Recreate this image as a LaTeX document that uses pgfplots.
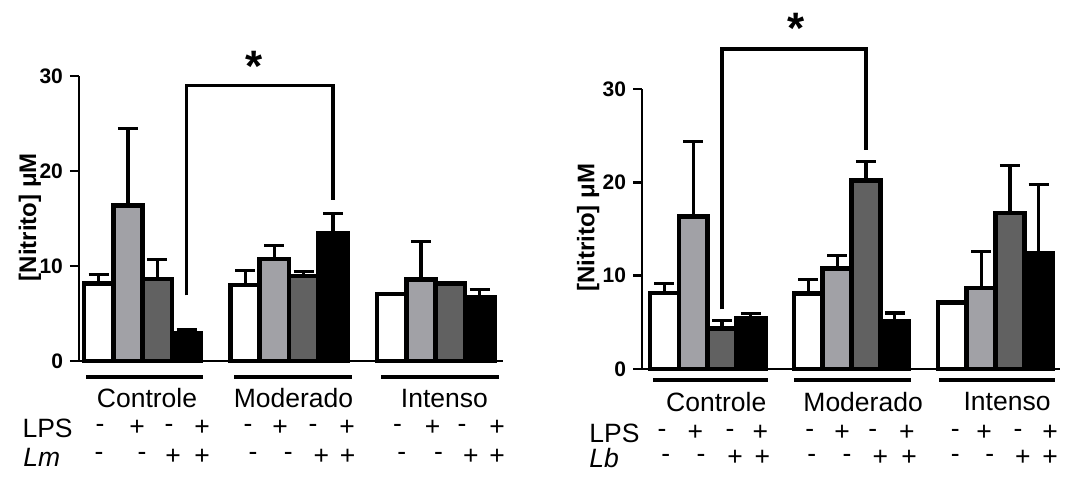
\documentclass[border=0pt]{standalone}
\usepackage{pgfplots}
\pgfplotsset{compat=1.18}
\usepackage{fontspec}
\setmainfont{Liberation Sans}
\definecolor{lgray}{RGB}{161,161,166}
\definecolor{dgray}{RGB}{97,97,97}
\newcommand{\grp}{\fontsize{13.25}{15}\selectfont}
\newcommand{\signrow}[2]{%
  \foreach \x/\s in {#2} {\edef\tmp{\noexpand\node[font=\noexpand\grp, inner sep=0pt] at (axis cs:\x,#1) {\s};}\tmp}}
\pgfplotsset{
  panel/.style={
    scale only axis,
    axis x line*=bottom, axis y line*=left,
    axis line style={line width=1.35pt,-},
    xtick=\empty,
    ymin=0, ymax=30, ytick={0,10,20,30},
    ytick style={line width=1.35pt, black},
    major tick length=4.5pt, tick align=outside,
    yticklabel style={font=\fontsize{10.5}{12}\selectfont\bfseries},
    /pgf/number format/assume math mode=true,
    ylabel={[Nitrito] μM},
    clip=false,
    ybar, bar width=1, bar shift=0pt,
  },
  bw/.style={draw=black, line width=2.3pt, fill=#1,
    error bars/.cd, y dir=plus, y explicit,
    error bar style={line width=1.6pt, black, solid},
    error mark options={rotate=90, line width=1.6pt, mark size=5pt, black, solid}},
}
\pgfplotstableread{
x y e
0 8.15 0.95
5 8.0 1.55
10 7.05 0
}\LwA
\pgfplotstableread{
x y e
1 16.35 8.15
6 10.75 1.4
11 8.55 4.0
}\LwB
\pgfplotstableread{
x y e
2 8.65 2.05
7 8.95 0.5
12 8.15 0
}\LwC
\pgfplotstableread{
x y e
3 2.9 0.4
8 13.45 2.1
13 6.75 0.8
}\LwD
\pgfplotstableread{
x y e
0 8.14 1.06
5 8.07 1.5
10 7.1 0
}\RwA
\pgfplotstableread{
x y e
1 16.36 8.04
6 10.75 1.43
11 8.68 3.92
}\RwB
\pgfplotstableread{
x y e
2 4.32 0.88
7 20.2 2.0
12 16.7 5.1
}\RwC
\pgfplotstableread{
x y e
3 5.46 0.47
8 5.1 0.9
13 12.36 7.44
}\RwD
\begin{document}
\begin{tikzpicture}
\useasboundingbox (0,0) rectangle (536pt,238.5pt);
% ---------------- left panel
\begin{axis}[panel,
  at={(39.5pt,58pt)}, anchor=south west,
  width=212pt, height=142.5pt,
  xmin=-0.67, xmax=13.8,
  ylabel style={at={(axis description cs:-0.116,0.505)}, anchor=center, font=\fontsize{12}{14}\selectfont\bfseries},
]
\addplot[bw=white] table[x=x,y=y,y error=e]{\LwA};
\addplot[bw=lgray] table[x=x,y=y,y error=e]{\LwB};
\addplot[bw=dgray] table[x=x,y=y,y error=e]{\LwC};
\addplot[bw=black] table[x=x,y=y,y error=e]{\LwD};
\draw[line width=1.7pt] (axis cs:3,6.9) -- (axis cs:3,29) -- (axis cs:8,29) -- (axis cs:8,16.9);
\node[font=\fontsize{22}{24}\selectfont\bfseries, anchor=base] at (axis cs:5.3,29.4) {*};
\draw[line width=2pt] (axis cs:-0.43,-1.68) -- (axis cs:3.56,-1.68);
\draw[line width=2pt] (axis cs:4.62,-1.68) -- (axis cs:8.65,-1.68);
\draw[line width=2pt] (axis cs:9.64,-1.68) -- (axis cs:13.67,-1.68);
\node[font=\grp] at (axis cs:1.65,-3.9) {Controle};
\node[font=\grp] at (axis cs:6.65,-3.9) {Moderado};
\node[font=\grp] at (axis cs:11.8,-3.9) {Intenso};
\node[font=\grp, anchor=west, inner sep=0pt] at (axis cs:-2.61,-7.05) {LPS};
\node[font=\grp\itshape, anchor=west, inner sep=0pt] at (axis cs:-2.58,-10.1) {Lm};
\signrow{-7.05}{0.05/-,1.31/+,2.4/-,3.53/+,5.1/-,6.19/+,7.32/-,8.48/+,10.2/-,11.4/+,12.4/-,13.6/+}
\signrow{-10.1}{0.01/-,1.48/-,2.54/+,3.53/+,5.27/-,6.47/-,7.6/+,8.5/+,10.35/-,11.6/-,12.7/+,13.6/+}
\end{axis}
% ---------------- right panel
\begin{axis}[panel,
  at={(321pt,54pt)}, anchor=south west,
  width=209pt, height=140pt,
  xmin=-0.78, xmax=13.74,
  ylabel style={at={(axis description cs:-0.129,0.504)}, anchor=center, font=\fontsize{12}{14}\selectfont\bfseries},
]
\addplot[bw=white] table[x=x,y=y,y error=e]{\RwA};
\addplot[bw=lgray] table[x=x,y=y,y error=e]{\RwB};
\addplot[bw=dgray] table[x=x,y=y,y error=e]{\RwC};
\addplot[bw=black] table[x=x,y=y,y error=e]{\RwD};
\draw[line width=1.7pt] (axis cs:2,6.4) -- (axis cs:2,34.3) -- (axis cs:7,34.3) -- (axis cs:7,23.5);
\node[font=\fontsize{22}{24}\selectfont\bfseries, anchor=base] at (axis cs:4.57,34.9) {*};
\draw[line width=2pt] (axis cs:-0.4,-1.18) -- (axis cs:3.6,-1.18);
\draw[line width=2pt] (axis cs:4.5,-1.18) -- (axis cs:8.55,-1.18);
\draw[line width=2pt] (axis cs:9.53,-1.18) -- (axis cs:13.56,-1.18);
\node[font=\grp] at (axis cs:1.8,-3.5) {Controle};
\node[font=\grp] at (axis cs:6.9,-3.5) {Moderado};
\node[font=\grp] at (axis cs:11.9,-3.5) {Intenso};
\node[font=\grp, anchor=west, inner sep=0pt] at (axis cs:-2.62,-6.86) {LPS};
\node[font=\grp\itshape, anchor=west, inner sep=0pt] at (axis cs:-2.62,-9.54) {Lb};
\signrow{-6.86}{-0.08/-,1.07/+,2.28/-,3.33/+,5.05/-,6.17/+,7.24/-,8.42/+,10.1/-,11.1/+,12.28/-,13.4/+}
\signrow{-9.54}{0.05/-,1.27/-,2.45/+,3.4/+,5.12/-,6.34/-,7.5/+,8.5/+,10.1/-,11.3/-,12.45/+,13.4/+}
\end{axis}
\end{tikzpicture}
\end{document}
